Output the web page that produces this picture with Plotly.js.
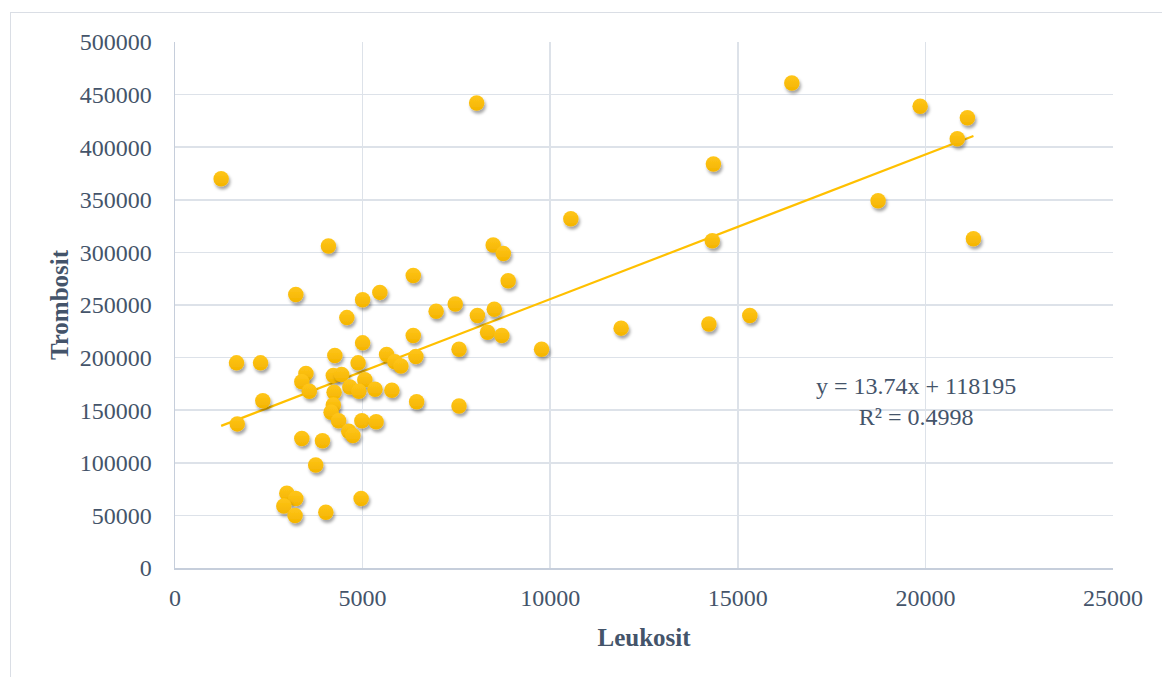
<!DOCTYPE html>
<html>
<head>
<meta charset="utf-8">
<script src="https://cdn.plot.ly/plotly-3.0.1.min.js"></script>
<style>
  html, body { margin: 0; padding: 0; width: 1162px; height: 677px; overflow: hidden; background: #ffffff; }
  #frame { position: absolute; left: 10px; top: 12px; width: 1200px; height: 720px; border: 1px solid #dadee5; box-sizing: border-box; }
  #chart { position: absolute; left: 0; top: 0; width: 1162px; height: 677px; }
</style>
</head>
<body>
<div id="frame"></div>
<div id="chart"></div>
<script>
// Leukosit (x) values
const leukosit = [
  1230, 1640, 1660, 2280, 2340, 3220, 4090, 4580, 5000, 5000,
  4260, 4880, 3490, 3380, 3580, 4220, 4440, 5060, 4660, 4900,
  5330, 5780, 4240, 4220, 4160, 4360, 4980, 5360, 4630, 4740,
  3380, 3930, 3750, 2980, 3220, 2900, 3200, 4020, 4960,
  6350, 5640, 7570, 5860, 6020, 6420, 6440, 7570, 8480, 8750,
  6350, 8880, 5460, 7470, 6960, 8060, 8510, 8330, 8710, 9770,
  8040, 10550, 11890, 16440, 19860, 21120, 20850, 14350, 18740, 14320,
  21280, 14230, 15320
];
// Trombosit (y) values
const trombosit = [
  370000, 195000, 137000, 195000, 159000, 260000, 306000, 238000, 255000, 214000,
  202000, 195000, 185000, 177000, 168000, 183000, 184000, 179000, 172000, 168000,
  170000, 169000, 167000, 155000, 148000, 140000, 140000, 139000, 130000, 126000,
  123000, 121000, 98000, 71000, 66000, 59000, 50000, 53000, 66000,
  221000, 203000, 208000, 196000, 192000, 201000, 158000, 154000, 307000, 299000,
  278000, 273000, 262000, 251000, 244000, 240000, 246000, 224000, 221000, 208000,
  442000, 332000, 228000, 461000, 439000, 428000, 408000, 384000, 349000, 311000,
  313000, 232000, 240000
];
// Linear trendline as reported on the chart
const trendSlope = 13.74;
const trendIntercept = 118195;
const trendR2 = 0.4998;
const xTitle = "Leukosit";
const yTitle = "Trombosit";

const xMin = Math.min(...leukosit);
const xMax = Math.max(...leukosit);
const trendX = [xMin, xMax];
const trendY = trendX.map(v => trendSlope * v + trendIntercept);

const textColor = "#44546a";
const fontFam = "'Liberation Serif', 'DejaVu Serif', serif";
const gold = "#FFC000";

const traces = [
  {
    x: trendX, y: trendY, type: "scatter", mode: "lines",
    line: { color: gold, width: 2.2 }, hoverinfo: "skip", showlegend: false
  },
  {
    x: leukosit, y: trombosit, type: "scatter", mode: "markers",
    marker: {
      size: 15.5, color: "#FFC61A",
      gradient: { type: "vertical", color: "#F4B400" },
      line: { width: 0 }
    },
    showlegend: false
  }
];

const layout = {
  width: 1162, height: 677,
  margin: { l: 175, r: 49, t: 42, b: 109 },
  paper_bgcolor: "rgba(0,0,0,0)",
  plot_bgcolor: "rgba(0,0,0,0)",
  font: { family: fontFam, color: textColor, size: 24 },
  showlegend: false,
  xaxis: {
    range: [0, 25000], dtick: 5000, tick0: 0, tickformat: "d",
    showgrid: true, gridcolor: "#dde2e9", gridwidth: 1.5,
    showline: true, linecolor: "#c6cedb", linewidth: 1.5,
    zeroline: false, ticks: "", ticklabelstandoff: 8,
    tickfont: { family: fontFam, size: 24, color: textColor },
    title: { text: xTitle, standoff: 18, font: { family: fontFam, size: 25, color: textColor, weight: "bold" } }
  },
  yaxis: {
    range: [0, 500000], dtick: 50000, tick0: 0, tickformat: "d",
    showgrid: true, gridcolor: "#dde2e9", gridwidth: 1.5,
    showline: true, linecolor: "#c6cedb", linewidth: 1.5,
    zeroline: false, ticks: "", ticklabelstandoff: 17,
    tickfont: { family: fontFam, size: 24, color: textColor },
    title: { text: yTitle, standoff: 4, font: { family: fontFam, size: 25, color: textColor, weight: "bold" } }
  },
  annotations: [
    {
      xref: "x", yref: "y", x: 19760, y: 158000,
      text: "y = " + trendSlope + "x + " + trendIntercept + "<br>R² = " + trendR2,
      showarrow: false, xanchor: "center", yanchor: "middle", align: "center",
      font: { family: fontFam, size: 24, color: textColor }
    }
  ]
};

Plotly.newPlot("chart", traces, layout, { staticPlot: true, displayModeBar: false }).then(gd => {
  const svg = gd.querySelector("svg.main-svg");
  const ns = "http://www.w3.org/2000/svg";
  let defs = svg.querySelector("defs");
  if (!defs) { defs = document.createElementNS(ns, "defs"); svg.insertBefore(defs, svg.firstChild); }
  const filt = document.createElementNS(ns, "filter");
  filt.setAttribute("id", "mkShadow");
  filt.setAttribute("x", "-50%"); filt.setAttribute("y", "-50%");
  filt.setAttribute("width", "200%"); filt.setAttribute("height", "200%");
  const ds = document.createElementNS(ns, "feDropShadow");
  ds.setAttribute("dx", "1.5"); ds.setAttribute("dy", "3");
  ds.setAttribute("stdDeviation", "1.6");
  ds.setAttribute("flood-color", "#000000"); ds.setAttribute("flood-opacity", "0.35");
  filt.appendChild(ds);
  defs.appendChild(filt);
  const traceGroups = gd.querySelectorAll(".scatterlayer .trace");
  const mk = traceGroups[traceGroups.length - 1];
  if (mk) {
    mk.querySelectorAll("path.point").forEach(p => p.setAttribute("filter", "url(#mkShadow)"));
  }
});
</script>
</body>
</html>
